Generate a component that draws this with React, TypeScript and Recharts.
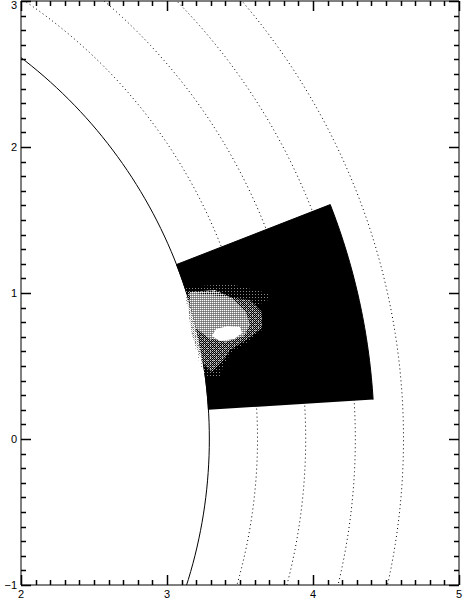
import React from "react";
import { Scatter, ScatterChart, XAxis, YAxis } from "recharts";

// axes
const xMajorTicks = [2, 3, 4, 5];
const yMajorTicks = [-1, 0, 1, 2, 3];
const minorSteps = 10;

// circles (solid limb + dotted heights), radii
const limbRadius = 3.29;
const dottedRadii = [3.62, 3.95, 4.29, 4.62];

// black sector: inner/outer radius, start/end angle in degrees
const sectorRadii = [3.29, 4.42];
const sectorAngles = [3.5, 21.3];

// grey blob contours inside the sector
const blobOuter: [number, number][] = [
  [3.13, 1.041], [3.432, 1.062], [3.692, 1.0], [3.692, 0.952], [3.61, 0.911],
  [3.664, 0.801], [3.651, 0.747], [3.555, 0.664], [3.445, 0.596], [3.39, 0.514],
  [3.363, 0.425], [3.267, 0.418], [3.226, 0.507], [3.171, 0.712], [3.13, 0.952],
];
const blobMid: [number, number][] = [
  [3.144, 1.007], [3.568, 0.952], [3.651, 0.87], [3.651, 0.76], [3.541, 0.678],
  [3.432, 0.61], [3.377, 0.527], [3.308, 0.459], [3.24, 0.527], [3.171, 0.712],
  [3.137, 0.952],
];
const blobBright: [number, number][] = [
  [3.158, 1.007], [3.329, 1.021], [3.445, 0.966], [3.541, 0.87], [3.568, 0.781],
  [3.527, 0.705], [3.404, 0.664], [3.281, 0.692], [3.199, 0.76], [3.158, 0.918],
];
const blobCore: [number, number][] = [
  [3.308, 0.705], [3.336, 0.753], [3.418, 0.774], [3.5, 0.767], [3.514, 0.726],
  [3.459, 0.685], [3.363, 0.671],
];

const rad = Math.PI / 180;
const arc = (r: number, a0: number, a1: number, step: number) => {
  const pts: { x: number; y: number }[] = [];
  const n = Math.round(Math.abs(a1 - a0) / step);
  for (let i = 0; i <= n; i++) {
    const a = (a0 + ((a1 - a0) * i) / n) * rad;
    pts.push({ x: r * Math.cos(a), y: r * Math.sin(a) });
  }
  return pts;
};
const toPts = (list: [number, number][]) => list.map(([x, y]) => ({ x, y }));

const withMinor = (majors: number[]) => {
  const out: number[] = [];
  for (let i = 0; i < majors.length - 1; i++) {
    for (let j = 0; j < minorSteps; j++) {
      out.push(Math.round((majors[i] + ((majors[i + 1] - majors[i]) * j) / minorSteps) * 100) / 100);
    }
  }
  out.push(majors[majors.length - 1]);
  return out;
};
const xTicks = withMinor(xMajorTicks);
const yTicks = withMinor(yMajorTicks);
const isMajor = (v: number) => Math.abs(v - Math.round(v)) < 1e-6;
const fmt = (v: number) => (v < 0 ? "\u2212" + Math.abs(v) : String(v));
const px = (v: number) => Math.round(v) + 0.5;

const limbData = arc(limbRadius, -25, 70, 1);
const dottedData = dottedRadii.map((r) => arc(r, -25, 70, 1));
const sectorData = [
  ...arc(sectorRadii[0], sectorAngles[0], sectorAngles[1], 0.5),
  ...arc(sectorRadii[1], sectorAngles[1], sectorAngles[0], 0.5),
];

const noDot = () => <g />;
const font = "'Liberation Sans', Arial, sans-serif";
const tickStroke = { stroke: "#000", strokeWidth: 1.5, fill: "none" };

function BottomTick(props: any) {
  const { x, y, payload } = props;
  const major = isMajor(payload.value);
  return (
    <g>
      <path d={`M${px(x)},${y}V${y - (major ? 10 : 5)}`} {...tickStroke} />
      {major && (
        <text x={x} y={y + 13} textAnchor="middle" fontSize={11} fontFamily={font} fill="#000">
          {fmt(payload.value)}
        </text>
      )}
    </g>
  );
}

function TopTick(props: any) {
  const { x, y, payload } = props;
  const major = isMajor(payload.value);
  return <path d={`M${px(x)},${y}V${y + (major ? 10 : 5)}`} {...tickStroke} />;
}

function LeftTick(props: any) {
  const { x, y, payload } = props;
  const major = isMajor(payload.value);
  return (
    <g>
      <path d={`M${x},${px(y)}H${x + (major ? 10 : 5)}`} {...tickStroke} />
      {major && (
        <text x={x - 4} y={Math.max(y, 5)} dy="0.36em" textAnchor="end" fontSize={11} fontFamily={font} fill="#000">
          {fmt(payload.value)}
        </text>
      )}
    </g>
  );
}

function RightTick(props: any) {
  const { x, y, payload } = props;
  const major = isMajor(payload.value);
  return <path d={`M${x},${px(y)}H${x - (major ? 10 : 5)}`} {...tickStroke} />;
}

export default function App() {
  const axisLine = { stroke: "#000" };
  return (
    <div style={{ position: "absolute", left: 0, top: 0, background: "#fff" }}>
      <ScatterChart width={464} height={604} margin={{ top: 0, right: 0, bottom: 0, left: 0 }}>
        <defs>
          <pattern id="ditherFaint" width={3} height={3} patternUnits="userSpaceOnUse">
            <rect x={0} y={0} width={1} height={1} fill="#8a8a8a" />
          </pattern>
          <pattern id="ditherMid" width={2} height={2} patternUnits="userSpaceOnUse">
            <rect x={0} y={0} width={1} height={1} fill="#d0d0d0" />
            <rect x={1} y={1} width={1} height={1} fill="#707070" />
          </pattern>
          <pattern id="ditherBright" width={2} height={2} patternUnits="userSpaceOnUse">
            <rect x={0} y={0} width={1} height={1} fill="#ffffff" />
            <rect x={1} y={0} width={1} height={1} fill="#a0a0a0" />
            <rect x={0} y={1} width={1} height={1} fill="#8c8c8c" />
          </pattern>
        </defs>
        <XAxis
          type="number"
          dataKey="x"
          domain={[2, 5]}
          ticks={xTicks}
          interval={0}
          allowDataOverflow
          height={19}
          tickSize={0}
          tickMargin={0}
          tickLine={false}
          axisLine={axisLine}
          tick={BottomTick}
        />
        <XAxis
          xAxisId="top"
          orientation="top"
          type="number"
          dataKey="x"
          domain={[2, 5]}
          ticks={xTicks}
          interval={0}
          allowDataOverflow
          height={1}
          tickSize={0}
          tickMargin={0}
          tickLine={false}
          axisLine={axisLine}
          tick={TopTick}
        />
        <YAxis
          type="number"
          dataKey="y"
          domain={[-1, 3]}
          ticks={yTicks}
          interval={0}
          allowDataOverflow
          width={21}
          tickSize={0}
          tickMargin={0}
          tickLine={false}
          axisLine={axisLine}
          tick={LeftTick}
        />
        <YAxis
          yAxisId="right"
          orientation="right"
          type="number"
          dataKey="y"
          domain={[-1, 3]}
          ticks={yTicks}
          interval={0}
          allowDataOverflow
          width={5}
          tickSize={0}
          tickMargin={0}
          tickLine={false}
          axisLine={axisLine}
          tick={RightTick}
        />
        {dottedData.map((pts, i) => (
          <Scatter
            key={i}
            data={pts}
            fill="#000"
            shape={noDot}
            line={{ stroke: "#000", strokeWidth: 1, strokeDasharray: "1 3" }}
            isAnimationActive={false}
          />
        ))}
        <Scatter data={limbData} fill="#000" shape={noDot} line={{ stroke: "#000", strokeWidth: 1 }} isAnimationActive={false} />
        <Scatter data={sectorData} fill="#000" shape={noDot} line={{ fill: "#000", stroke: "#000", strokeWidth: 1 }} isAnimationActive={false} />
        <Scatter data={toPts(blobOuter)} fill="#000" shape={noDot} line={{ fill: "url(#ditherFaint)", stroke: "none" }} isAnimationActive={false} />
        <Scatter data={toPts(blobMid)} fill="#000" shape={noDot} line={{ fill: "url(#ditherMid)", stroke: "none" }} isAnimationActive={false} />
        <Scatter data={toPts(blobBright)} fill="#000" shape={noDot} line={{ fill: "url(#ditherBright)", stroke: "none" }} isAnimationActive={false} />
        <Scatter data={toPts(blobCore)} fill="#000" shape={noDot} line={{ fill: "#fff", stroke: "none" }} isAnimationActive={false} />
      </ScatterChart>
    </div>
  );
}
